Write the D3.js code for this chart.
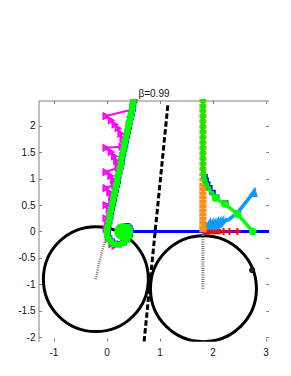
<!DOCTYPE html>
<html><head><meta charset="utf-8">
<script src="https://cdn.jsdelivr.net/npm/d3@7"></script>
<style>html,body{margin:0;padding:0;background:#fff}svg{display:block}text{font-family:"Liberation Sans",Arial,sans-serif;fill:#111}</style>
</head><body><script>
const xTicks=[-1,0,1,2,3];
const yTicks=[-2,-1.5,-1,-0.5,0,0.5,1,1.5,2];
const title="β=0.99";
const circles=[[-0.21,-0.9,0.99],[1.82,-1.08,1]];
const blackDot=[2.74,-0.73];
const dottedLeft=[[-0.21,-0.9],[-0.15,-0.6],[-0.07,-0.3],[0,0]];
const dottedRight=[[1.81,-1.08],[1.81,0]];
const dashed=[[0.7,-2.08],[1.15,2.4]];
const blueLine=[[0.29,0],[3.2,0]];
const greenLeft=[[0.5,2.45],[0.48,2.37],[0.47,2.29],[0.45,2.2],[0.43,2.12],[0.41,2.03],[0.4,1.95],[0.38,1.87],[0.36,1.78],[0.34,1.7],[0.33,1.61],[0.31,1.53],[0.29,1.44],[0.27,1.36],[0.26,1.27],[0.24,1.19],[0.22,1.1],[0.2,1.02],[0.19,0.93],[0.17,0.85],[0.15,0.76],[0.13,0.68],[0.12,0.59],[0.1,0.51],[0.08,0.42],[0.06,0.34],[0.05,0.25],[0.03,0.17],[0.01,0.08],[0,0],[0,-0.07],[0.03,-0.14],[0.08,-0.2],[0.14,-0.24],[0.22,-0.25],[0.3,-0.22],[0.38,-0.16],[0.42,-0.08],[0.43,0],[0.41,0.06],[0.37,0.09],[0.33,0.08],[0.29,0.04]];
const greenRight=[[1.81,2.47],[1.81,2.37],[1.81,2.29],[1.81,2.2],[1.81,2.12],[1.81,2.03],[1.81,1.95],[1.81,1.87],[1.81,1.78],[1.81,1.7],[1.81,1.61],[1.81,1.53],[1.81,1.44],[1.81,1.36],[1.81,1.27],[1.81,1.19],[1.82,1.1],[1.83,1.02],[1.85,0.95],[1.88,0.88],[1.92,0.81],[1.98,0.72]];
const greenRightBig=[[2.05,0.63],[2.22,0.52],[2.46,0.33],[2.75,0]];
const magenta=[[0.5,2.43],[0.47,2.3],[-0.03,2.18],[0.07,2.1],[0.14,2.02],[0.2,1.95],[0.25,1.85],[0.29,1.75],[0.31,1.65],[0.27,1.6],[-0.03,1.58],[0.07,1.5],[0.13,1.42],[0.17,1.33],[0.2,1.25],[0.2,1.2],[-0.03,1.12],[0.06,1.05],[0.11,0.97],[0.13,0.88],[-0.03,0.82],[0.04,0.74],[0.08,0.66],[0.08,0.55],[-0.03,0.5],[0.03,0.42],[0.04,0.32],[-0.03,0.25],[0,0.15],[-0.03,0.05],[0.02,-0.14],[0.08,-0.24],[0.14,-0.27]];
const orange=[[1.81,2.47],[1.81,2.37],[1.81,2.28],[1.81,2.18],[1.81,2.08],[1.81,1.98],[1.81,1.88],[1.81,1.78],[1.81,1.68],[1.81,1.58],[1.81,1.48],[1.81,1.38],[1.81,1.28],[1.81,1.18],[1.81,1.08],[1.81,0.98],[1.81,0.88],[1.81,0.8],[1.81,0.72],[1.81,0.64],[1.81,0.56],[1.81,0.48],[1.81,0.4],[1.81,0.32],[1.81,0.24],[1.81,0.16],[1.81,0.08],[1.81,0.02]];
const redBand=[[1.83,0],[2.15,0]];
const redPlus=[[2.2,0],[2.31,0],[2.46,0]];
const lightBlue=[[1.88,0.17],[1.88,0.1],[1.93,0.17],[1.93,0.1],[1.98,0.17],[1.98,0.1],[2.03,0.17],[2.03,0.1],[2.08,0.18],[2.08,0.11],[2.13,0.19],[2.13,0.12],[2.18,0.2],[2.18,0.14],[2.25,0.22],[2.29,0.22],[2.46,0.35],[2.76,0.73]];
const bluePts=[[1.83,1.02],[1.85,0.95],[1.88,0.88],[1.92,0.81],[1.98,0.72],[2.05,0.63],[2.22,0.52],[2.46,0.33]];

const W=291,H=376,L=39,R=269,T=101,B=341.7;
const x=d3.scaleLinear().domain([-1.283,3.057]).range([L,R]);
const y=d3.scaleLinear().domain([-2.081,2.464]).range([B,T]);
const svg=d3.select("body").append("svg").attr("width",W).attr("height",H);
svg.append("defs").append("clipPath").attr("id","c").append("rect").attr("x",L).attr("y",T-2).attr("width",R-L).attr("height",B-T+2);
const axc="#808080";
svg.append("path").attr("d",`M${L},${B}V${T}H${R}`).attr("fill","none").attr("stroke",axc).attr("stroke-width",1);
const tk=svg.append("g").attr("stroke",axc).attr("stroke-width",1);
xTicks.forEach(v=>{const p=Math.round(x(v))+.5;
 tk.append("line").attr("x1",p).attr("x2",p).attr("y1",T).attr("y2",T+3);
 tk.append("line").attr("x1",p).attr("x2",p).attr("y1",B).attr("y2",B-3);});
yTicks.forEach(v=>{const p=Math.round(y(v))+.5;
 tk.append("line").attr("y1",p).attr("y2",p).attr("x1",L).attr("x2",L+3);
 tk.append("line").attr("y1",p).attr("y2",p).attr("x1",R).attr("x2",R-3);});
const tl=svg.append("g").attr("font-size",10);
xTicks.forEach(v=>tl.append("text").attr("x",x(v)).attr("y",B+14).attr("text-anchor","middle").text(v));
yTicks.forEach(v=>tl.append("text").attr("x",L-3.5).attr("y",y(v)+3.5).attr("text-anchor","end").text(v));
svg.append("text").attr("x",154).attr("y",97).attr("text-anchor","middle").attr("font-size",10).text(title);

const g=svg.append("g").attr("clip-path","url(#c)");
const line=d3.line().x(d=>x(d[0])).y(d=>y(d[1]));
const ln=(data,color,w,dash)=>g.append("path").attr("d",line(data)).attr("fill","none").attr("stroke",color).attr("stroke-width",w).attr("stroke-dasharray",dash||null);
const pu=x(1)-x(0);
circles.forEach(c=>g.append("circle").attr("cx",x(c[0])).attr("cy",y(c[1])).attr("r",c[2]*pu).attr("fill","none").attr("stroke","#000").attr("stroke-width",3));
g.append("circle").attr("cx",x(blackDot[0])).attr("cy",y(blackDot[1])).attr("r",2.6).attr("fill","#222").attr("stroke","#000");
ln(dottedLeft,"#777",2.5,"1 1.2");
ln(dottedRight,"#777",3,"1 1.2");
ln(dashed,"#000",3,"5.5 2.5");
ln(blueLine,"#0000ff",3);
// blue trace, seen as a fringe around the green one
ln(greenLeft,"#0000ff",2);
greenLeft.concat(bluePts).forEach(d=>g.append("rect").attr("x",x(d[0])-2.8).attr("y",y(d[1])-3.6).attr("width",6.6).attr("height",5.2).attr("fill","#0000ff"));
// magenta
ln(magenta,"#ff00ff",2);
magenta.forEach(d=>g.append("path").attr("transform",`translate(${x(d[0])},${y(d[1])})`).attr("d","M-2,-2.8L2.8,0L-2,2.8Z").attr("fill","none").attr("stroke","#ff00ff").attr("stroke-width",1.8));
// red
ln(redBand,"#ff0000",5.5);
redPlus.forEach(d=>g.append("path").attr("transform",`translate(${x(d[0])},${y(d[1])})`).attr("d","M-3.5,0H3.5M0,-3.5V3.5").attr("stroke","#ff0000").attr("stroke-width",2));
// light blue
ln(lightBlue,"#0a9cff",3.6);
const lb=lightBlue[lightBlue.length-1];
g.append("path").attr("transform",`translate(${x(lb[0])},${y(lb[1])})`).attr("d","M-4,3.5L3.5,3.5L1.5,-4.5Z").attr("fill","#0a9cff").attr("stroke","#0a9cff").attr("stroke-width",1.5);
// orange
ln(orange,"#ff8c1a",2);
orange.forEach(d=>g.append("rect").attr("x",x(d[0])-3.6).attr("y",y(d[1])-1.9).attr("width",7.2).attr("height",3.8).attr("fill","#ff8c1a"));
// green
[greenLeft,greenRight.concat(greenRightBig)].forEach(s=>ln(s,"#00ff00",3.4));
greenLeft.forEach(d=>g.append("rect").attr("x",x(d[0])-3.2).attr("y",y(d[1])-3).attr("width",6.4).attr("height",6).attr("fill","#00ff00"));
greenRight.forEach(d=>g.append("rect").attr("x",x(d[0])-2.5).attr("y",y(d[1])-2.2).attr("width",5).attr("height",4.4).attr("fill","#00f000"));
greenRightBig.forEach(d=>g.append("circle").attr("cx",x(d[0])).attr("cy",y(d[1])).attr("r",3.8).attr("fill","#00ff00"));
// green disc core
g.append("circle").attr("cx",x(0.29)).attr("cy",y(0)).attr("r",8.2).attr("fill","#00ff00");
</script></body></html>
